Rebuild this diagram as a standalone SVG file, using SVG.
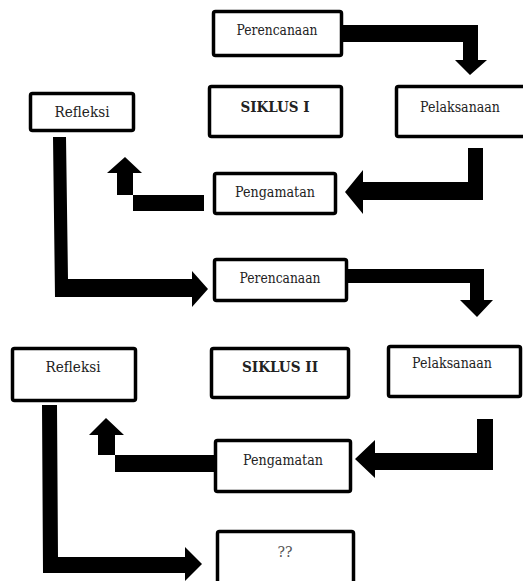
<svg xmlns="http://www.w3.org/2000/svg" width="523" height="581" viewBox="0 0 523 581">
<style>
.box{fill:#fff;stroke:#000;stroke-width:3.5}
.lbl{font-family:"DejaVu Serif","Liberation Serif",serif;font-size:14px;fill:#222;text-anchor:middle}
.b{font-weight:bold}
.arr{fill:#000}
</style>
<rect width="523" height="581" fill="#fff"/>
<g id="connectors" class="arr">
<polygon points="343,25 478,25 478,60 487,60 470,75 455,60 463,60 463,42 343,42"/>
<polygon points="483,148 483,200 363,200 363,214 345,192 363,170 363,182 468,182 468,148"/>
<polygon points="204,195 204,211 133,211 133,173 142,173 125,157 107,173 117,173 117,195"/>
<polygon points="53,137 66,137 68,279 192,279 192,271 208,289 192,307 192,297 55,297"/>
<polygon points="348,269 484,269 484,300 493,300 477,317 460,300 470,300 470,283 348,283"/>
<polygon points="493,419 493,470 375,470 375,478 355,459 375,440 375,453 477,453 477,419"/>
<polygon points="214,455 214,472 115,472 115,435 124,435 106,418 89,435 98,435 98,455"/>
<polygon points="42,405 57,405 58,557 185,557 185,547 202,564 185,581 185,573 43,573"/>
</g>
<g id="perencanaan1"><rect class="box" x="213.5" y="11.5" width="128" height="44" rx="2"/><text class="lbl" x="277" y="35" textLength="81" lengthAdjust="spacingAndGlyphs">Perencanaan</text></g>
<g id="siklus1"><rect class="box" x="209.5" y="86.5" width="132" height="50" rx="2"/><text class="lbl b" x="275" y="112" textLength="69" lengthAdjust="spacingAndGlyphs">SIKLUS I</text></g>
<g id="refleksi1"><rect class="box" x="30.5" y="93.5" width="103" height="37" rx="2"/><text class="lbl" x="82" y="117" textLength="55" lengthAdjust="spacingAndGlyphs">Refleksi</text></g>
<g id="pelaksanaan1"><rect class="box" x="396.5" y="86.5" width="130" height="50" rx="2"/><text class="lbl" x="460" y="112" textLength="80" lengthAdjust="spacingAndGlyphs">Pelaksanaan</text></g>
<g id="pengamatan1"><rect class="box" x="214.5" y="173.5" width="121" height="40" rx="2"/><text class="lbl" x="275" y="197" textLength="80" lengthAdjust="spacingAndGlyphs">Pengamatan</text></g>
<g id="perencanaan2"><rect class="box" x="214.5" y="259.5" width="132" height="41" rx="2"/><text class="lbl" x="280" y="283" textLength="81" lengthAdjust="spacingAndGlyphs">Perencanaan</text></g>
<g id="refleksi2"><rect class="box" x="12.5" y="348.5" width="123" height="52" rx="2"/><text class="lbl" x="73" y="372" textLength="55" lengthAdjust="spacingAndGlyphs">Refleksi</text></g>
<g id="siklus2"><rect class="box" x="211.5" y="348.5" width="137" height="49" rx="2"/><text class="lbl b" x="280" y="372" textLength="76" lengthAdjust="spacingAndGlyphs">SIKLUS II</text></g>
<g id="pelaksanaan2"><rect class="box" x="388.5" y="346.5" width="132" height="50" rx="2"/><text class="lbl" x="452" y="368" textLength="80" lengthAdjust="spacingAndGlyphs">Pelaksanaan</text></g>
<g id="pengamatan2"><rect class="box" x="215.5" y="440.5" width="135" height="51" rx="2"/><text class="lbl" x="283" y="465" textLength="80" lengthAdjust="spacingAndGlyphs">Pengamatan</text></g>
<g id="q"><rect class="box" x="217.5" y="531.5" width="136" height="60" rx="2"/><text class="lbl" x="285" y="557" fill="#444" style="fill:#555">??</text></g>
</svg>
